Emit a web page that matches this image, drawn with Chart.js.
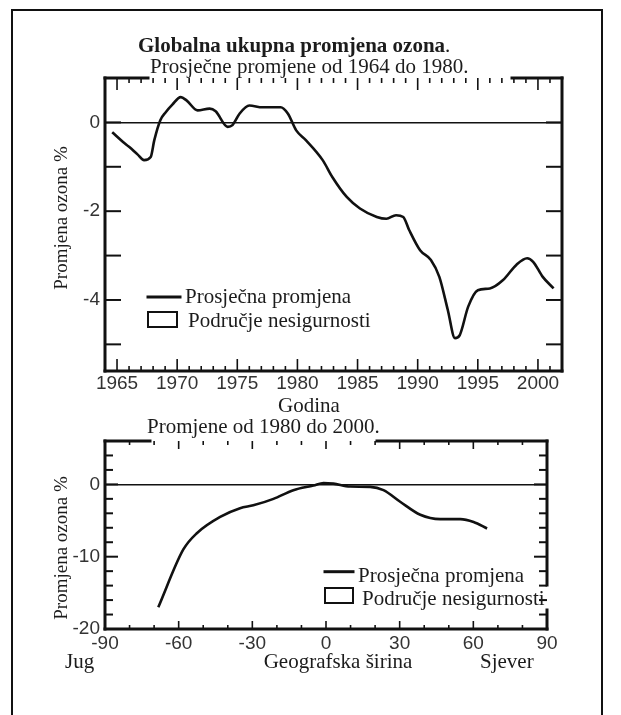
<!DOCTYPE html>
<html><head><meta charset="utf-8">
<script src="https://cdn.jsdelivr.net/npm/chart.js@4"></script>
<style>
html,body{margin:0;padding:0;background:#fff;}
#wrap{position:relative;width:621px;height:715px;overflow:hidden;background:#fff;}
canvas{position:absolute;left:0;}
#c1{top:0px;}
#c2{top:405px;}
#frame{position:absolute;left:11px;top:9px;width:592px;height:800px;border:2px solid #111;box-sizing:border-box;}
</style></head>
<body><div id="wrap"><div id="frame"></div><canvas id="c1" width="621" height="425"></canvas><canvas id="c2" width="621" height="310"></canvas></div>
<script>
// ---- Top chart data: global ozone change vs year ----
const years = [1964.6,1965.5,1966.0,1966.7,1967.25,1967.8,1968.1,1968.6,1969.05,1969.6,1970.3,1970.8,1971.7,1972.7,1973.2,1974.2,1974.6,1975.2,1976.0,1977.1,1978.6,1979.2,1979.9,1980.7,1982.1,1982.9,1984.1,1985.2,1986.6,1987.4,1988.2,1988.8,1989.3,1990.2,1991.1,1991.8,1992.5,1993.1,1993.5,1994.2,1995.0,1996.0,1997.1,1998.2,1999.1,1999.6,2000.4,2001.3];
const yearChange = [-0.22,-0.44,-0.55,-0.72,-0.85,-0.78,-0.40,0.05,0.23,0.40,0.57,0.49,0.27,0.31,0.25,-0.10,-0.06,0.20,0.38,0.34,0.34,0.20,-0.18,-0.40,-0.85,-1.23,-1.68,-1.94,-2.13,-2.17,-2.09,-2.13,-2.43,-2.88,-3.10,-3.48,-4.22,-4.86,-4.79,-4.15,-3.78,-3.74,-3.55,-3.21,-3.06,-3.14,-3.48,-3.74];
const topXTicks = [1965,1970,1975,1980,1985,1990,1995,2000];
const topYTicks = [0,-2,-4];

// ---- Bottom chart data: ozone change vs latitude ----
const latitudes = [-68.3,-58.1,-52.6,-43.1,-35.0,-29.6,-21.4,-13.3,-5.1,-1.0,3.0,9.8,18.0,23.4,30.2,38.4,46.5,54.7,60.1,65.6];
const latChange = [-17.0,-9.0,-6.75,-4.5,-3.3,-2.9,-2.0,-0.8,-0.15,0.2,0.1,-0.3,-0.35,-0.8,-2.4,-4.2,-4.8,-4.8,-5.2,-6.1];
const botXTicks = [-90,-60,-30,0,30,60,90];
const botYTicks = [-20,-10,0];

const TXT = '#1c1c1c';
const SERIF = '"Liberation Serif", "Times New Roman", serif';
const SANS = '"Liberation Sans", Arial, sans-serif';

function line(ctx,x1,y1,x2,y2,w){ctx.beginPath();ctx.lineWidth=w;ctx.moveTo(x1,y1);ctx.lineTo(x2,y2);ctx.stroke();}

function makeChart(id, xs, ys, cfg){
  const data = xs.map((x,i)=>({x:x,y:ys[i]}));
  return new Chart(document.getElementById(id), {
    type:'line',
    data:{datasets:[{label:'Prosječna promjena',data:data,borderColor:'#111',borderWidth:2.6,pointRadius:0,fill:false,cubicInterpolationMode:'monotone'}]},
    options:{
      responsive:false, animation:false, devicePixelRatio:1,
      layout:{padding:cfg.padding},
      plugins:{legend:{display:false},tooltip:{enabled:false}},
      scales:{
        x:{type:'linear',min:cfg.xmin,max:cfg.xmax,
           afterFit:s=>{s.height=cfg.xH;},
           afterBuildTicks:s=>{s.ticks=cfg.xTicks.map(v=>({value:v}));},
           grid:{display:false,drawTicks:false},border:{display:false},
           ticks:{autoSkip:false,maxRotation:0,padding:cfg.xPad,callback:v=>String(v),font:{family:SANS,size:19},color:'#333'}},
        y:{type:'linear',min:cfg.ymin,max:cfg.ymax,
           afterFit:s=>{s.width=105;},
           afterBuildTicks:s=>{s.ticks=cfg.yTicks.map(v=>({value:v}));},
           grid:{drawTicks:false,color:c=>(c.tick&&c.tick.value===0)?'#111':'rgba(0,0,0,0)',lineWidth:1.6},
           border:{display:false},
           ticks:{autoSkip:false,padding:5,callback:v=>String(v),font:{family:SANS,size:19},color:'#333'}}
      }
    },
    plugins:[{id:'deco'+id,afterDraw:cfg.deco}]
  });
}

// Top chart
makeChart('c1', years, yearChange, {
  padding:{left:0,right:59,top:78,bottom:0}, xH:54,
  xmin:1964,xmax:2002,ymin:-5.6,ymax:1.0,xTicks:topXTicks,yTicks:topYTicks,xPad:1,
  deco:(chart)=>{
    const ctx=chart.ctx, a=chart.chartArea, sx=chart.scales.x, sy=chart.scales.y;
    ctx.save(); ctx.strokeStyle='#111'; ctx.lineCap='butt';
    for(let yr=1964; yr<=2002; yr++){
      const px=sx.getPixelForValue(yr), L=(yr%5===0)?12:5;
      line(ctx,px,a.bottom,px,a.bottom-L,1.6);
      line(ctx,px,a.top,px,a.top+L,1.6);
    }
    for(let v=-5; v<=0; v++){
      const py=sy.getPixelForValue(v);
      line(ctx,a.left,py,a.left+16,py,2);
      line(ctx,a.right,py,a.right-16,py,2);
    }
    ctx.lineCap='square';
    line(ctx,a.left,a.top,a.left,a.bottom,3);
    line(ctx,a.left,a.bottom,a.right,a.bottom,3);
    line(ctx,a.right,a.top,a.right,a.bottom,3);
    line(ctx,a.left,a.top,148,a.top,3);
    line(ctx,512,a.top,a.right,a.top,3);
    ctx.fillStyle=TXT; ctx.textBaseline='alphabetic'; ctx.textAlign='left';
    ctx.font='bold 21px '+SERIF;
    const t='Globalna ukupna promjena ozona';
    ctx.fillText(t,138,52);
    const w=ctx.measureText(t).width;
    ctx.font='21px '+SERIF; ctx.fillText('.',138+w,52);
    ctx.fillText('Prosječne promjene od 1964 do 1980.',150,73);
    ctx.textAlign='center';
    ctx.fillText('Godina',309,412);
    ctx.save(); ctx.translate(62,218); ctx.rotate(-Math.PI/2);
    ctx.font='19px '+SERIF; ctx.textBaseline='middle'; ctx.fillText('Promjena ozona %',0,0); ctx.restore();
    ctx.textAlign='left'; ctx.font='21px '+SERIF;
    line(ctx,148,297,180,297,3);
    ctx.fillText('Prosječna promjena',185,303);
    ctx.lineWidth=2; ctx.strokeRect(148,312,29,15);
    ctx.fillText('Područje nesigurnosti',188,327);
    ctx.restore();
  }
});

// Bottom chart (canvas top = 405)
makeChart('c2', latitudes, latChange, {
  padding:{left:0,right:74,top:36,bottom:0}, xH:86,
  xmin:-90,xmax:90,ymin:-20,ymax:6,xTicks:botXTicks,yTicks:botYTicks,xPad:3,
  deco:(chart)=>{
    const ctx=chart.ctx, a=chart.chartArea, sx=chart.scales.x, sy=chart.scales.y;
    const O=405;
    ctx.save(); ctx.strokeStyle='#111'; ctx.lineCap='butt';
    for(let v=-90; v<=90; v+=10){
      const px=sx.getPixelForValue(v), L=(v%30===0)?8:4;
      line(ctx,px,a.bottom,px,a.bottom-L,1.6);
      line(ctx,px,a.top,px,a.top+L,1.6);
    }
    for(let v=-20; v<=6; v+=2){
      const py=sy.getPixelForValue(v), L=(v%10===0)?13:8;
      line(ctx,a.left,py,a.left+L,py,2);
      line(ctx,a.right,py,a.right-L,py,2);
    }
    ctx.lineCap='square';
    line(ctx,a.left,a.top,a.left,a.bottom,3);
    line(ctx,a.left,a.bottom,a.right,a.bottom,3);
    line(ctx,a.right,a.top,a.right,585-O,3);
    line(ctx,a.right,610-O,a.right,a.bottom,3);
    line(ctx,a.left,a.top,150,a.top,3);
    line(ctx,377,a.top,a.right,a.top,3);
    ctx.fillStyle=TXT; ctx.textBaseline='alphabetic'; ctx.textAlign='left';
    ctx.font='21px '+SERIF;
    ctx.fillText('Promjene od 1980 do 2000.',147,433-O);
    ctx.fillText('Jug',65,668-O);
    ctx.fillText('Sjever',480,668-O);
    ctx.textAlign='center';
    ctx.fillText('Geografska širina',338,668-O);
    ctx.save(); ctx.translate(62,548-O); ctx.rotate(-Math.PI/2);
    ctx.font='19px '+SERIF; ctx.textBaseline='middle'; ctx.fillText('Promjena ozona %',0,0); ctx.restore();
    ctx.textAlign='left'; ctx.font='21px '+SERIF;
    line(ctx,325,571.7-O,353,571.7-O,3);
    ctx.fillText('Prosječna promjena',358,582-O);
    ctx.lineWidth=2; ctx.strokeRect(325,588-O,28,15);
    ctx.fillText('Područje nesigurnosti',362,605-O);
    ctx.restore();
  }
});
</script></body></html>
